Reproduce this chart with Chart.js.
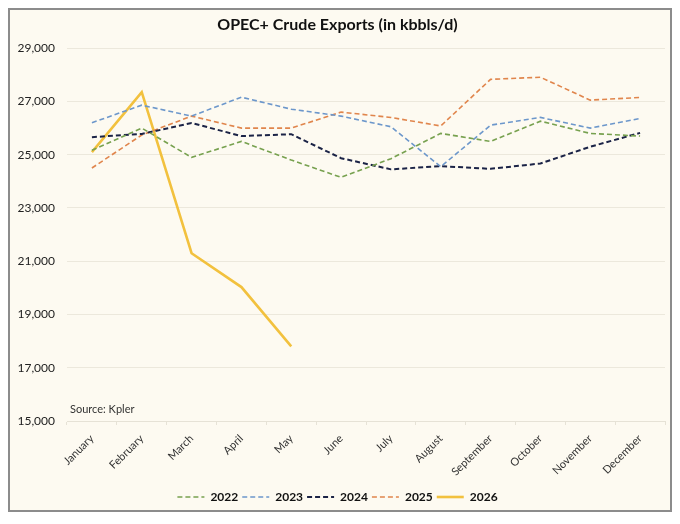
<!DOCTYPE html>
<html>
<head>
<meta charset="utf-8">
<script src="https://cdn.jsdelivr.net/npm/chart.js@4.4.1/dist/chart.umd.min.js"></script>
<style>
  html, body { margin: 0; padding: 0; background: #ffffff; }
  #frame {
    position: absolute; left: 8px; top: 8px;
    width: 660px; height: 500px;
    border: 2px solid #8c8c8c;
    background: #fdfaf1;
  }
  #frame canvas { display: block; }
</style>
</head>
<body>
<div id="frame"><canvas id="chart" width="660" height="500"></canvas></div>
<script>
const months = ["January", "February", "March", "April", "May", "June",
  "July", "August", "September", "October", "November", "December"];

const exports2022 = [25170, 26000, 24900, 25500, 24800, 24150, 24850, 25800, 25500, 26260, 25800, 25700];
const exports2023 = [26200, 26860, 26450, 27160, 26710, 26450, 26050, 24550, 26110, 26400, 26000, 26360];
const exports2024 = [25660, 25780, 26190, 25700, 25770, 24870, 24450, 24570, 24470, 24670, 25300, 25820];
const exports2025 = [24500, 25740, 26450, 26000, 26000, 26600, 26400, 26080, 27830, 27910, 27050, 27150];
const exports2026 = [25100, 27350, 21300, 20030, 17800, null, null, null, null, null, null, null];

const FONT = "Lato, 'Open Sans', sans-serif";
const LEGEND_LINE = 27;

// "Source: Kpler" note inside the plot, just above the bottom axis
const sourceNote = {
  id: "sourceNote",
  afterDatasetsDraw(chart) {
    const { ctx, chartArea, scales } = chart;
    ctx.save();
    ctx.font = "11px " + FONT;
    ctx.fillStyle = "#333333";
    ctx.textBaseline = "middle";
    ctx.fillText("Source: Kpler", chartArea.left + 3, scales.y.getPixelForValue(15000) - 12);
    ctx.restore();
  }
};

// the legend samples keep the dash of their series
const legendLines = {
  id: "legendLines",
  afterDraw(chart) {
    const legend = chart.legend;
    if (!legend || !legend.legendHitBoxes) return;
    const ctx = chart.ctx;
    legend.legendHitBoxes.forEach((box, i) => {
      const ds = chart.data.datasets[i];
      const y = box.top + box.height / 2;
      ctx.save();
      ctx.strokeStyle = ds.borderColor;
      ctx.lineWidth = ds.borderWidth;
      ctx.setLineDash(ds.borderDash || []);
      ctx.beginPath();
      ctx.moveTo(box.left, y);
      ctx.lineTo(box.left + LEGEND_LINE, y);
      ctx.stroke();
      ctx.restore();
    });
  }
};

function dashed(label, data, color, width) {
  return {
    label: label, data: data, borderColor: color, backgroundColor: color,
    borderWidth: width, borderDash: [5, 3], pointRadius: 0, tension: 0, fill: false
  };
}

new Chart(document.getElementById("chart"), {
  type: "line",
  data: {
    labels: months,
    datasets: [
      dashed("2022", exports2022, "#77a14f", 1.6),
      dashed("2023", exports2023, "#6c97cb", 1.6),
      dashed("2024", exports2024, "#1b2346", 2),
      dashed("2025", exports2025, "#e0854c", 1.6),
      {
        label: "2026", data: exports2026, borderColor: "#f2c13e", backgroundColor: "#f2c13e",
        borderWidth: 2.6, pointRadius: 0, tension: 0, fill: false, spanGaps: false
      }
    ]
  },
  options: {
    responsive: false,
    animation: false,
    layout: { padding: { left: 0, right: 5, top: 0, bottom: -3 } },
    plugins: {
      title: {
        display: true,
        text: "OPEC+ Crude Exports (in kbbls/d)",
        color: "#111111",
        font: { family: FONT, size: 16, weight: "bold" },
        padding: { top: 5, bottom: 14 }
      },
      legend: {
        position: "bottom",
        labels: {
          boxWidth: LEGEND_LINE,
          boxHeight: 12,
          padding: 4,
          color: "#111111",
          font: { family: FONT, size: 12, weight: "bold" },
          generateLabels(chart) {
            return Chart.defaults.plugins.legend.labels.generateLabels(chart).map(item => {
              item.fillStyle = "rgba(0,0,0,0)";
              item.strokeStyle = "rgba(0,0,0,0)";
              return item;
            });
          }
        }
      },
      tooltip: { enabled: false }
    },
    scales: {
      x: {
        offset: true,
        afterFit(scale) { scale.height = 66; },
        grid: { offset: true, drawOnChartArea: false, drawTicks: true, tickLength: 4, color: "#e6e2d6" },
        border: { display: true, color: "#e6e2d6" },
        ticks: {
          minRotation: 45, maxRotation: 45, padding: 7,
          color: "#333333", font: { family: FONT, size: 11 }
        }
      },
      y: {
        min: 15000, max: 29000,
        afterFit(scale) { scale.width = 57; },
        grid: { drawTicks: false, color: "#ece8dc" },
        border: { display: false },
        ticks: {
          stepSize: 2000, padding: 12,
          color: "#222222", font: { family: FONT, size: 12 },
          callback: v => v.toLocaleString("en-US")
        }
      }
    }
  },
  plugins: [sourceNote, legendLines]
});
</script>
</body>
</html>
